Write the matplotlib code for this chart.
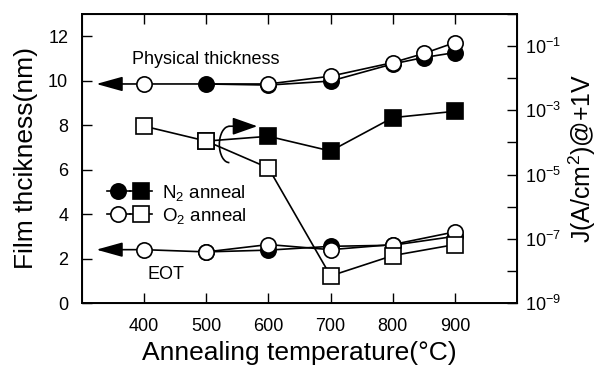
import matplotlib
matplotlib.use("Agg")
import matplotlib.pyplot as plt
import numpy as np
from matplotlib.lines import Line2D
from matplotlib.legend_handler import HandlerTuple
from matplotlib.patches import Arc

plt.rcParams["font.family"] = ["Liberation Sans", "DejaVu Sans"]
plt.rcParams["mathtext.default"] = "regular"

# annealing temperatures (C)
temps_o2 = [400, 500, 600, 700, 800, 900]
temps_n2 = [500, 600, 700, 800, 900]
temps_phys_o2 = [400, 600, 700, 800, 850, 900]
temps_phys_n2 = [500, 600, 700, 800, 850, 900]

# physical thickness (nm)
phys_o2 = [9.85, 9.85, 10.2, 10.81, 11.22, 11.71]
phys_n2 = [9.85, 9.8, 9.98, 10.75, 11.04, 11.26]

# EOT (nm)
eot_o2 = [2.4, 2.3, 2.63, 2.4, 2.63, 3.2]
eot_n2 = [2.3, 2.38, 2.55, 2.6, 3.0]

# leakage current density J (A/cm2) @ +1V
j_o2 = [3.2e-4, 1.1e-4, 1.6e-5, 7.0e-9, 3.0e-8, 6.6e-8]
j_n2 = [1.1e-4, 1.55e-4, 5.4e-5, 5.9e-4, 9.3e-4]

xticks = [400, 500, 600, 700, 800, 900]
yticks = [0, 2, 4, 6, 8, 10, 12]
jticks = [10.0 ** e for e in range(-9, 1)]
jlabels = [f"$10^{{{e}}}$" if e % 2 else "" for e in range(-9, 1)]

ms = 11
mew = 1.2
lw = 1.2

fig = plt.figure(figsize=(5.97, 3.66), dpi=100)
ax = fig.add_axes([0.1374, 0.172, 0.7286, 0.79])
ax.set_xlim(300, 1000)
ax.set_ylim(0, 13)

filled_c = dict(color="k", lw=lw, marker="o", ms=ms, mfc="k", mec="k", mew=mew)
open_c = dict(color="k", lw=lw, marker="o", ms=ms, mfc="white", mec="k", mew=mew)
filled_s = dict(color="k", lw=lw, marker="s", ms=ms, mfc="k", mec="k", mew=mew)
open_s = dict(color="k", lw=lw, marker="s", ms=ms, mfc="white", mec="k", mew=mew)

ax.plot(temps_phys_n2, phys_n2, zorder=3, **filled_c)
ax.plot(temps_phys_o2, phys_o2, zorder=4, **open_c)
ax.plot(temps_n2, eot_n2, zorder=3, **filled_c)
ax.plot(temps_o2, eot_o2, zorder=4, **open_c)

# arrows pointing to the left axis
head = dict(arrowstyle="-|>,head_length=0.9,head_width=0.25", color="k",
            lw=lw, shrinkA=0, shrinkB=0, mutation_scale=18)
ax.annotate("", xy=(323, phys_o2[0]), xytext=(400, phys_o2[0]), arrowprops=head, zorder=2)
ax.annotate("", xy=(323, eot_o2[0]), xytext=(400, eot_o2[0]), arrowprops=head, zorder=2)

# curved arrow pointing to the right axis
ax.add_patch(Arc((537, 7.13), 32, 1.63, theta1=90, theta2=285, color="k", lw=lw, zorder=5))
head2 = dict(arrowstyle="-|>,head_length=0.85,head_width=0.3", color="k",
             lw=lw, shrinkA=0, shrinkB=0, mutation_scale=18)
ax.annotate("", xy=(582, 7.95), xytext=(537, 7.95), arrowprops=head2, zorder=5)

ax.text(381, 10.73, "Physical thickness", fontsize=13, va="baseline")
ax.text(405, 1.08, "EOT", fontsize=13, va="baseline")

ax.set_xticks(xticks)
ax.set_yticks(yticks)
ax.tick_params(direction="in", length=7, width=1, top=True, labelsize=13)
ax.tick_params(axis="y", pad=10)
ax.tick_params(axis="x", pad=11)
ax.set_xlabel("Annealing temperature(\u00b0C)", fontsize=19, labelpad=4)
ax.set_ylabel("Film thcikness(nm)", fontsize=19, labelpad=7)
for s in ax.spines.values():
    s.set_linewidth(1.4)

ax2 = ax.twinx()
ax2.set_yscale("log")
ax2.set_ylim(1e-9, 1)
ax2.plot(temps_n2, j_n2, zorder=3, **filled_s)
ax2.plot(temps_o2, j_o2, zorder=4, **open_s)
ax2.set_yticks(jticks)
ax2.set_yticklabels(jlabels)
ax2.yaxis.set_minor_locator(matplotlib.ticker.NullLocator())
ax2.tick_params(direction="in", length=7, width=1, labelsize=13, pad=6)
ax2.set_ylabel("J(A/cm$^2$)@+1V", fontsize=18, labelpad=4)

h_n2 = (Line2D([], [], **filled_c), Line2D([], [], **filled_s))
h_o2 = (Line2D([], [], **open_c), Line2D([], [], **open_s))
ax2.legend([h_n2, h_o2], ["N$_2$ anneal", "O$_2$ anneal"],
           handler_map={tuple: HandlerTuple(ndivide=None, pad=0)},
           loc="center left", bbox_to_anchor=(0.0575, 0.342), frameon=False,
           fontsize=13.5, handlelength=2.4, handletextpad=0.55, labelspacing=0.15,
           borderpad=0, borderaxespad=0)

fig.savefig("out.png", dpi=100)
